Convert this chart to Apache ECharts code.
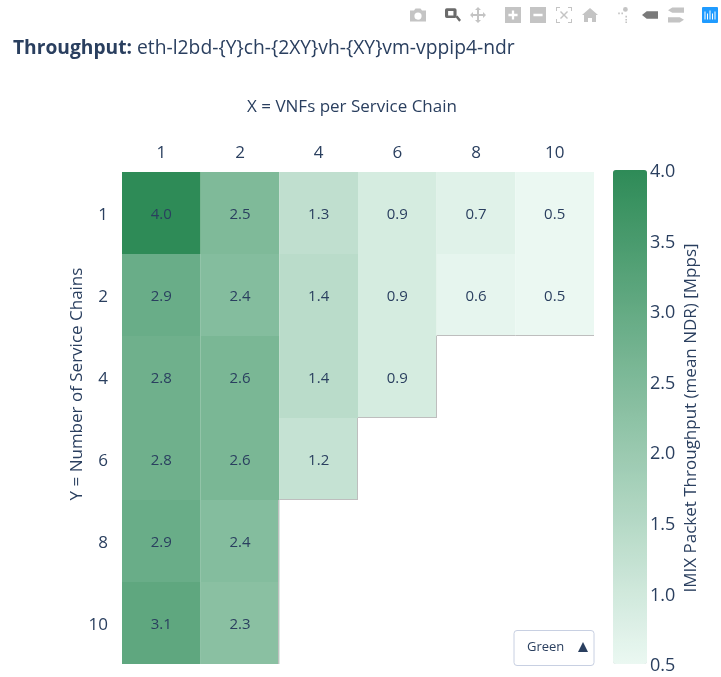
<!DOCTYPE html>
<html><head><meta charset="utf-8">
<style>html,body{margin:0;padding:0;background:#fff}#c{width:721px;height:677px}</style>
<script src="https://cdn.jsdelivr.net/npm/echarts@6/dist/echarts.min.js"></script>
</head><body><div id="c"></div>
<script>
const xCategories = ['1','2','4','6','8','10'];
const yCategories = ['1','2','4','6','8','10'];
const row1 = [4.0, 2.5, 1.3, 0.9, 0.7, 0.5];
const row2 = [2.9, 2.4, 1.4, 0.9, 0.6, 0.5];
const row4 = [2.8, 2.6, 1.4, 0.9];
const row6 = [2.8, 2.6, 1.2];
const row8 = [2.9, 2.4];
const row10 = [3.1, 2.3];
const rows = [row1, row2, row4, row6, row8, row10];
const colorStops = ['#ebf8f2', '#2e8b57'];
const valueMin = 0.5, valueMax = 4, valueStep = 0.5;
const ink = '#2a3f5f', font = '"Open Sans"';

const cells = [];
rows.forEach((r, ri) => r.forEach((v, ci) => cells.push([ci, ri, v])));

function renderCell(params, api) {
  const c = api.value(0), r = api.value(1);
  const p0 = api.coord([c, r]);
  const s = api.size([1, 1]);
  const x = p0[0] - s[0] / 2, y = p0[1] - s[1] / 2;
  const kids = [{type: 'rect', shape: {x, y, width: s[0], height: s[1]}, style: {fill: api.visual('color')}}];
  const last = rows[r].length - 1 === c;
  const bottom = r === rows.length - 1 || rows[r + 1].length <= c;
  const edge = {stroke: '#bebebe', lineWidth: 1};
  const ex = Math.round(x + s[0]) - 0.5, ey = Math.round(y + s[1]) - 0.5;
  if (last && r > 0 && c < xCategories.length - 1) kids.push({type: 'line', shape: {x1: ex, y1: y, x2: ex, y2: y + s[1]}, style: edge});
  if (bottom && r < rows.length - 1) kids.push({type: 'line', shape: {x1: x, y1: ey, x2: x + s[0], y2: ey}, style: edge});
  kids.push({type: 'text', style: {x: p0[0], y: p0[1] + 1.5, text: api.value(2).toFixed(1), fill: ink, font: '15px ' + font, align: 'center', verticalAlign: 'middle'}});
  return {type: 'group', children: kids};
}

const grey = '#c4c4c4';
const modebarIcons = [
  {d: 'M-8 -5h4l1.5-2h5l1.5 2h4v11h-16z M0 -3a3.6 3.6 0 1 0 .01 0z', x: 418, fill: grey},
  {d: 'M-6 -7h9a2 2 0 0 1 2 2v7a2 2 0 0 1 -2 2h-9a2 2 0 0 1 -2-2v-7a2 2 0 0 1 2-2z M-4.5 -4v5h6v-5z M4 3l2-2 4 5-2 2z', x: 453, fill: '#6b6b6b'},
  {d: 'M0 -8l3 3h-2v4h4v-2l3 3-3 3v-2h-4v4h2l-3 3-3-3h2v-4h-4v2l-3-3 3-3v2h4v-4h-2z', x: 478, fill: grey},
  {d: 'M-7 -7h14v14h-14z M-1 -4v3h-3v2h3v3h2v-3h3v-2h-3v-3z', x: 513, fill: grey},
  {d: 'M-7 -7h14v14h-14z M-4 -1v2h8v-2z', x: 538, fill: grey},
  {d: 'M-8 -8h4v1h-3v3h-1z M4 -8h4v4h-1v-3h-3z M-8 4h1v3h3v1h-4z M7 4h1v4h-4v-1h3z M-3 -4l3 3 3-3 1 1-3 3 3 3-1 1-3-3-3 3-1-1 3-3-3-3z', x: 564, fill: grey},
  {d: 'M0 -8l8 7h-2v7h-4v-4h-4v4h-4v-7h-2z', x: 590, fill: grey},
  {d: 'M-7 -7h2v2h-2z M-3 -7h2v2h-2z M2 -8a3 3 0 1 1 .01 0z M2 -3h2v2h-2z M2 1h2v2h-2z M2 4h2v2h-2z', x: 623, fill: grey},
  {d: 'M-8 0l5-4h12v8h-12z', x: 650, fill: '#7a7a7a'},
  {d: 'M-3 -7h11v5h-11l-4-2.5z M-7 2h11l4 2.5-4 2.5h-11z', x: 676, fill: grey},
  {d: 'M-5 -3h1v8h-1z M-2.5 -1h1v6h-1z M0 -4h1v9h-1z M2.5 -1h1v6h-1z M5 -3h1v8h-1z', x: 710, fill: '#fff', size: 11, behind: {x: 702, y: 7, w: 16, h: 16}}
];
function renderModebar() {
  const kids = [];
  modebarIcons.forEach(m => {
    const sz = m.size || 16;
    if (m.behind) kids.push({type: 'rect', shape: {x: m.behind.x, y: m.behind.y, width: m.behind.w, height: m.behind.h, r: 1}, style: {fill: '#1f9bff'}});
    kids.push({type: 'path', x: m.x, y: 15, shape: {pathData: m.d, x: -sz / 2, y: -sz / 2, width: sz, height: sz, layout: 'center'}, style: {fill: m.fill, fillRule: 'evenodd'}});
  });
  return {type: 'group', silent: true, children: kids};
}

const chart = echarts.init(document.getElementById('c'), null, {renderer: 'canvas'});
chart.setOption({
  animation: false,
  backgroundColor: '#fff',
  textStyle: {fontFamily: font, color: ink},
  title: [
    {left: 13, top: 39, padding: 0, text: 'Throughput:', textStyle: {fontFamily: font, fontSize: 19.2, fontWeight: 'bold', color: ink}},
    {left: 137, top: 39, padding: 0, text: 'eth-l2bd-{Y}ch-{2XY}vh-{XY}vm-vppip4-ndr', textStyle: {fontFamily: font, fontSize: 19.3, fontWeight: 'normal', color: ink}}
  ],
  grid: [
    {left: 122, top: 172, width: 472, height: 492},
    {left: 613, top: 171, width: 34, height: 494}
  ],
  xAxis: [
    {type: 'category', gridIndex: 0, position: 'top', data: xCategories,
     name: 'X = VNFs per Service Chain', nameLocation: 'middle', nameGap: 56,
     nameTextStyle: {fontSize: 17, color: ink, fontFamily: font, padding: [0, 12, 0, 0]},
     axisLine: {show: false}, axisTick: {show: false}, splitLine: {show: false},
     axisLabel: {fontSize: 17, color: ink, fontFamily: font, margin: 10}},
    {type: 'value', gridIndex: 1, show: false}
  ],
  yAxis: [
    {type: 'category', gridIndex: 0, inverse: true, data: yCategories,
     axisLine: {show: false}, axisTick: {show: false}, splitLine: {show: false},
     axisLabel: {margin: 14, formatter: v => '{t|' + v + '}',
       rich: {t: {fontSize: 17, color: ink, fontFamily: font, padding: [4, 0, 0, 0]}}}},
    {type: 'value', gridIndex: 1, position: 'right', min: valueMin, max: valueMax, interval: valueStep,
     name: 'IMIX Packet Throughput (mean NDR) [Mpps]', nameLocation: 'middle', nameGap: 44, nameRotate: 90,
     nameTextStyle: {fontSize: 17, color: ink, fontFamily: font, verticalAlign: 'middle'},
     axisLine: {show: false}, axisTick: {show: false}, splitLine: {show: false},
     axisLabel: {margin: 3, formatter: v => '{t|' + v.toFixed(1) + '}',
       rich: {t: {fontSize: 18, color: ink, fontFamily: font, padding: [2, 0, 0, 0]}}}}
  ],
  visualMap: {
    type: 'continuous', min: valueMin, max: valueMax, seriesIndex: 0, calculable: false,
    left: 613, top: 170, itemWidth: 34, itemHeight: 494, showLabel: false, padding: 0,
    inRange: {color: colorStops}
  },
  series: [{
    type: 'custom', coordinateSystem: 'cartesian2d', xAxisIndex: 0, yAxisIndex: 0,
    data: cells, renderItem: renderCell, encode: {x: 0, y: 1}, silent: true
  }, {
    type: 'custom', coordinateSystem: 'none', data: [[0]], renderItem: renderModebar, silent: true
  }],
  graphic: [
    {type: 'text', x: 77, y: 384, rotation: Math.PI / 2, silent: true,
     style: {text: 'Y = Number of Service Chains', fill: ink, font: '17px ' + font, align: 'center', verticalAlign: 'middle'}},
    {type: 'rect', x: 514, y: 630.5, shape: {width: 80, height: 35, r: 3}, style: {fill: '#fff', stroke: '#c8d0e2', lineWidth: 1}, silent: true},
    {type: 'text', x: 527, y: 647, style: {text: 'Green', fill: ink, font: '13px ' + font, verticalAlign: 'middle'}, silent: true},
    {type: 'polygon', shape: {points: [[578, 652], [588, 652], [583, 642]]}, style: {fill: ink}, silent: true}
  ]
});
</script></body></html>
